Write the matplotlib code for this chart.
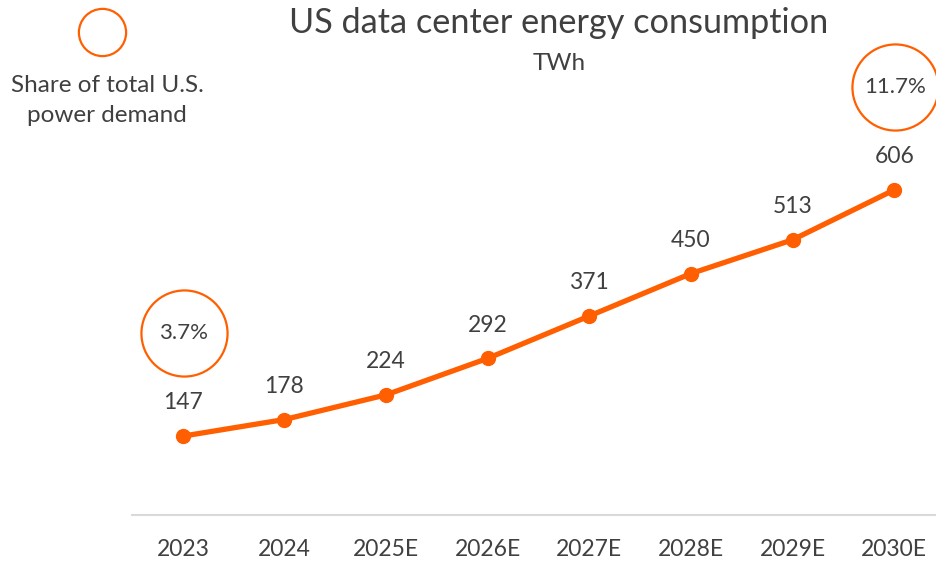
import matplotlib.pyplot as plt
import matplotlib.transforms as mtransforms

years = ['2023', '2024', '2025E', '2026E', '2027E', '2028E', '2029E', '2030E']
twh = [147, 178, 224, 292, 371, 450, 513, 606]
share_idx = [0, 7]
share_labels = ['3.7%', '11.7%']

orange = '#FF5F00'
txt = '#404040'

plt.rcParams['font.family'] = ['Lato', 'DejaVu Sans']

fig = plt.figure(figsize=(9.36, 5.62), dpi=100)
ax = fig.add_axes([132 / 936, 47 / 562, 813 / 936, 515 / 562])
x = list(range(len(years)))
ax.plot(x, twh, color=orange, lw=3.8, marker='o', ms=10, solid_capstyle='round')
ax.set_xlim(-0.5, 7.5)
ax.set_ylim(0, 960)

for xi, v in zip(x, twh):
    ax.annotate(str(v), (xi, v), xytext=(0, 24), textcoords='offset points',
                ha='center', va='center', fontsize=16.5, color=txt)

# share circles above first and last points
for i, lab in zip(share_idx, share_labels):
    tr = mtransforms.offset_copy(ax.transData, fig=fig, x=1, y=103, units='dots')
    ax.plot([x[i]], [twh[i]], marker='o', ms=62, mfc='none', mec=orange, mew=1.6,
            transform=tr, clip_on=False)
    ax.text(x[i], twh[i], lab, transform=tr, ha='center', va='center',
            fontsize=16, color=txt)

for s in ['top', 'right', 'left']:
    ax.spines[s].set_visible(False)
ax.spines['bottom'].set_color('#D9D9D9')
ax.spines['bottom'].set_linewidth(1.5)
ax.set_yticks([])
ax.set_xticks(x)
ax.set_xticklabels(years, fontsize=16.5, color=txt)
ax.tick_params(axis='x', length=0, pad=17)

fig.text(559 / 936, 1 - 23 / 562, 'US data center energy consumption', ha='center', va='center',
         fontsize=24.7, color=txt)
fig.text(559 / 936, 1 - 63 / 562, 'TWh', ha='center', va='center', fontsize=17.5, color=txt)

# legend
fig.add_artist(plt.Line2D([102 / 936], [1 - 32 / 562], marker='o', ms=34, mfc='none',
                          mec=orange, mew=1.6, transform=fig.transFigure))
fig.text(107 / 936, 1 - 85 / 562, 'Share of total U.S.', ha='center', va='center',
         fontsize=17.5, color=txt)
fig.text(107 / 936, 1 - 115 / 562, 'power demand', ha='center', va='center',
         fontsize=17.5, color=txt)

fig.savefig('out.png', dpi=100)
